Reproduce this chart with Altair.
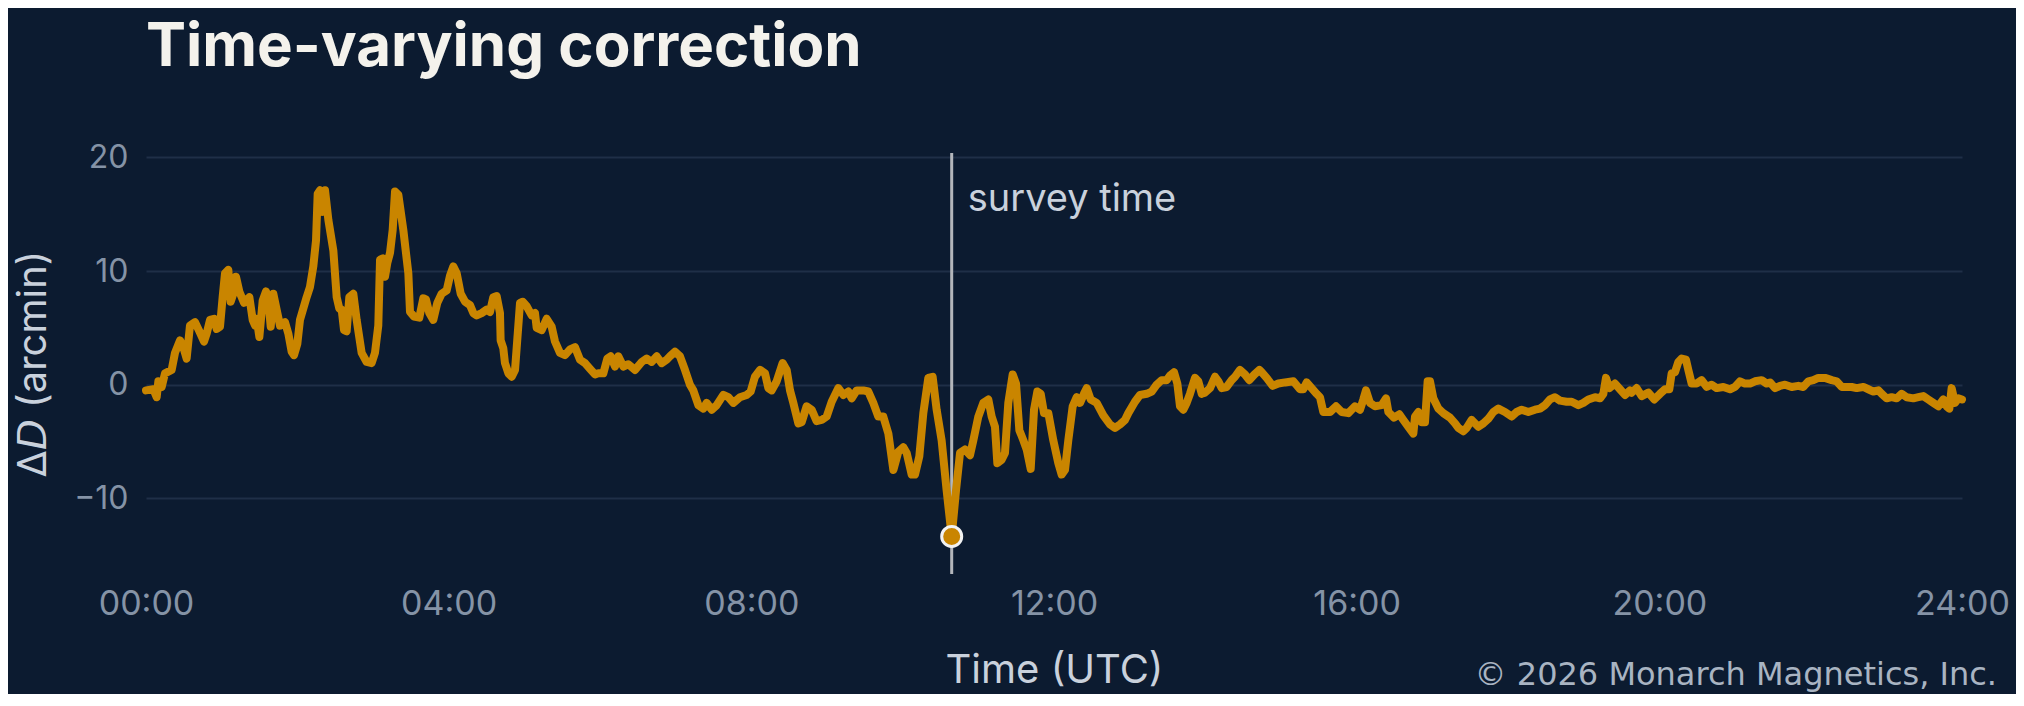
import altair as alt
import pandas as pd

# magnetic declination correction (hours UTC, arcmin)
hours = [
    0.000, 0.097, 0.141, 0.163, 0.207, 0.251, 0.339, 0.383, 0.449, 0.493,
    0.537, 0.581, 0.648, 0.705, 0.767, 0.802, 0.846, 0.899, 0.934, 0.978,
    1.013, 1.044, 1.088, 1.119, 1.154, 1.189, 1.233, 1.295, 1.366, 1.410,
    1.441, 1.463, 1.498, 1.542, 1.586, 1.617, 1.648, 1.683, 1.736, 1.771,
    1.837, 1.881, 1.925, 1.956, 2.000, 2.035, 2.123, 2.167, 2.211, 2.247,
    2.269, 2.300, 2.335, 2.366, 2.410, 2.476, 2.520, 2.555, 2.586, 2.617,
    2.652, 2.687, 2.740, 2.784, 2.850, 2.916, 2.982, 3.026, 3.070, 3.093,
    3.128, 3.159, 3.189, 3.225, 3.260, 3.291, 3.335, 3.401, 3.467, 3.489,
    3.542, 3.612, 3.665, 3.700, 3.744, 3.797, 3.850, 3.907, 3.974, 4.018,
    4.062, 4.106, 4.159, 4.216, 4.282, 4.326, 4.370, 4.436, 4.502, 4.546,
    4.590, 4.634, 4.678, 4.687, 4.722, 4.744, 4.789, 4.833, 4.877, 4.943,
    4.978, 5.031, 5.097, 5.141, 5.163, 5.229, 5.295, 5.361, 5.405, 5.471,
    5.537, 5.604, 5.670, 5.736, 5.802, 5.868, 5.934, 5.978, 6.044, 6.097,
    6.141, 6.198, 6.242, 6.308, 6.374, 6.463, 6.551, 6.617, 6.683, 6.749,
    6.815, 6.881, 6.925, 6.991, 7.057, 7.123, 7.189, 7.233, 7.300, 7.366,
    7.410, 7.476, 7.542, 7.630, 7.696, 7.762, 7.850, 7.938, 7.991, 8.048,
    8.115, 8.181, 8.225, 8.269, 8.335, 8.414, 8.467, 8.511, 8.555, 8.621,
    8.665, 8.731, 8.797, 8.863, 8.930, 8.996, 9.062, 9.150, 9.216, 9.282,
    9.326, 9.392, 9.480, 9.546, 9.612, 9.678, 9.744, 9.811, 9.877, 9.943,
    10.009, 10.053, 10.119, 10.163, 10.220, 10.273, 10.339, 10.396, 10.449, 10.515,
    10.581, 10.648, 10.705, 10.758, 10.824, 10.890, 10.934, 11.000, 11.066, 11.132,
    11.176, 11.220, 11.251, 11.308, 11.352, 11.396, 11.454, 11.498, 11.542, 11.595,
    11.639, 11.692, 11.736, 11.780, 11.824, 11.868, 11.925, 11.991, 12.057, 12.101,
    12.145, 12.189, 12.247, 12.300, 12.344, 12.396, 12.432, 12.485, 12.564, 12.652,
    12.740, 12.806, 12.872, 12.938, 12.982, 13.070, 13.137, 13.225, 13.291, 13.357,
    13.423, 13.489, 13.533, 13.586, 13.630, 13.665, 13.709, 13.753, 13.797, 13.863,
    13.907, 13.952, 13.996, 14.062, 14.128, 14.172, 14.216, 14.282, 14.348, 14.392,
    14.458, 14.524, 14.581, 14.648, 14.714, 14.744, 14.810, 14.890, 14.965, 15.053,
    15.163, 15.251, 15.295, 15.339, 15.405, 15.471, 15.515, 15.559, 15.648, 15.727,
    15.802, 15.890, 15.978, 16.044, 16.088, 16.123, 16.176, 16.242, 16.330, 16.388,
    16.419, 16.493, 16.564, 16.617, 16.683, 16.749, 16.771, 16.815, 16.859, 16.903,
    16.938, 16.969, 17.013, 17.079, 17.145, 17.233, 17.300, 17.344, 17.410, 17.454,
    17.520, 17.608, 17.674, 17.740, 17.806, 17.872, 17.960, 18.048, 18.115, 18.181,
    18.269, 18.357, 18.423, 18.489, 18.555, 18.621, 18.687, 18.775, 18.841, 18.930,
    18.996, 19.062, 19.150, 19.216, 19.260, 19.295, 19.339, 19.414, 19.480, 19.546,
    19.612, 19.634, 19.700, 19.767, 19.855, 19.933, 20.009, 20.075, 20.132, 20.163,
    20.207, 20.251, 20.295, 20.352, 20.383, 20.427, 20.493, 20.559, 20.626, 20.692,
    20.758, 20.846, 20.934, 21.000, 21.066, 21.132, 21.198, 21.264, 21.352, 21.419,
    21.463, 21.529, 21.595, 21.661, 21.749, 21.837, 21.903, 21.969, 22.035, 22.101,
    22.189, 22.278, 22.344, 22.410, 22.476, 22.542, 22.608, 22.696, 22.762, 22.828,
    22.894, 22.938, 23.004, 23.070, 23.137, 23.203, 23.269, 23.357, 23.423, 23.489,
    23.555, 23.621, 23.687, 23.753, 23.797, 23.833, 23.863, 23.907, 23.952, 24.000,
]
delta_d = [
    -0.5, -0.4, -1.1, 0.3, -0.2, 1.0, 1.3, 2.8, 3.9, 3.3,
    2.3, 5.2, 5.5, 4.7, 3.8, 4.5, 5.7, 5.8, 4.9, 5.1,
    7.7, 9.8, 10.1, 7.3, 8.0, 9.5, 8.2, 7.2, 7.7, 5.7,
    5.2, 5.8, 4.2, 7.4, 8.2, 7.4, 5.1, 8.0, 6.3, 5.2,
    5.5, 4.5, 2.9, 2.6, 3.6, 5.7, 7.7, 8.6, 10.4, 12.7,
    16.8, 17.1, 15.2, 17.1, 14.5, 11.8, 7.7, 6.7, 6.6, 4.8,
    4.7, 7.7, 8.0, 5.7, 2.8, 2.0, 1.9, 2.8, 5.2, 11.0,
    11.1, 9.5, 10.7, 11.6, 13.6, 17.0, 16.7, 13.6, 9.8, 6.4,
    6.0, 5.9, 7.6, 7.5, 6.3, 5.7, 7.2, 8.0, 8.3, 9.6,
    10.4, 9.8, 8.0, 7.3, 7.0, 6.3, 6.1, 6.3, 6.6, 6.4,
    7.7, 7.8, 6.3, 3.9, 3.2, 1.9, 1.0, 0.7, 1.3, 7.2,
    7.3, 6.9, 6.1, 6.3, 5.0, 4.8, 5.8, 5.1, 3.8, 2.8,
    2.6, 3.1, 3.3, 2.2, 1.9, 1.4, 0.9, 1.0, 1.0, 2.3,
    2.5, 1.6, 2.5, 1.6, 1.8, 1.3, 2.0, 2.3, 2.0, 2.5,
    1.9, 2.2, 2.5, 2.9, 2.5, 1.3, 0.0, -0.5, -1.8, -2.1,
    -1.6, -2.2, -1.8, -0.9, -1.1, -1.6, -1.1, -0.9, -0.6, 0.7,
    1.3, 1.0, -0.3, -0.5, 0.3, 1.9, 1.3, -0.5, -1.6, -3.4,
    -3.3, -1.9, -2.2, -3.2, -3.1, -2.8, -1.5, -0.3, -0.9, -0.6,
    -1.2, -0.5, -0.5, -0.6, -1.6, -2.8, -2.8, -4.3, -7.5, -5.9,
    -5.5, -6.0, -7.9, -7.9, -6.3, -2.5, 0.6, 0.7, -2.2, -4.9,
    -9.3, -13.35, -9.3, -6.0, -5.7, -6.2, -4.9, -2.8, -1.6, -1.3,
    -2.8, -3.7, -6.9, -6.6, -6.0, -1.6, 0.9, 0.1, -4.0, -4.9,
    -5.7, -7.4, -2.2, -0.6, -0.8, -2.5, -2.5, -4.9, -6.9, -7.9,
    -7.5, -4.9, -1.9, -1.1, -1.6, -0.8, -0.3, -1.3, -1.6, -2.7,
    -3.5, -3.8, -3.5, -3.1, -2.5, -1.5, -0.9, -0.8, -0.6, 0.0,
    0.4, 0.4, 0.8, 1.1, 0.1, -1.9, -2.2, -1.6, -0.8, 0.6,
    0.3, -0.8, -0.7, -0.3, 0.7, 0.3, -0.3, -0.2, 0.4, 0.7,
    1.3, 0.9, 0.4, 0.9, 1.3, 1.1, 0.6, -0.1, 0.1, 0.2,
    0.3, -0.4, -0.4, 0.2, -0.3, -0.8, -1.1, -2.4, -2.4, -1.9,
    -2.4, -2.5, -1.9, -2.2, -1.3, -0.5, -1.6, -1.9, -1.8, -1.2,
    -2.4, -2.9, -2.6, -3.1, -3.7, -4.3, -2.8, -2.4, -3.3, -3.3,
    0.3, 0.3, -1.2, -2.1, -2.5, -2.9, -3.4, -3.8, -4.1, -3.8,
    -3.1, -3.7, -3.4, -3.0, -2.4, -2.1, -2.4, -2.8, -2.4, -2.2,
    -2.4, -2.2, -2.1, -1.8, -1.3, -1.1, -1.4, -1.5, -1.5, -1.8,
    -1.6, -1.3, -1.1, -1.2, -0.8, 0.6, -0.3, 0.1, -0.4, -0.9,
    -0.5, -0.7, -0.3, -1.0, -0.7, -1.3, -0.8, -0.4, -0.4, 1.0,
    1.1, 2.0, 2.3, 2.2, 1.3, 0.1, 0.1, 0.4, -0.2, 0.0,
    -0.3, -0.2, -0.4, -0.2, 0.3, 0.1, 0.1, 0.3, 0.4, 0.1,
    0.2, -0.3, -0.1, 0.0, -0.2, -0.1, -0.2, 0.3, 0.4, 0.6,
    0.6, 0.4, 0.3, -0.2, -0.2, -0.2, -0.3, -0.2, -0.4, -0.6,
    -0.5, -0.8, -1.2, -1.1, -1.2, -0.8, -1.1, -1.2, -1.1, -1.0,
    -1.3, -1.6, -1.9, -1.3, -1.9, -2.1, -0.3, -1.6, -1.2, -1.3,
]

survey_hour = 10.648
survey_delta = -13.35
survey_label = "survey time"
survey_label_y = 15.3

x_ticks = [0, 4, 8, 12, 16, 20, 24]
y_ticks = [-10, 0, 10, 20]

BG = "#0c1b30"
GRID = "#1f2f47"
AMBER = "#c98500"
RULE = "#b3b6bb"
TICK_LABEL = "#8593a6"
AXIS_TITLE = "#c9d1dc"
TITLE = "#f4f2ec"
FONT = "Inter"

W, H = 1816, 421

series = pd.DataFrame({"hour": hours, "delta": delta_d})
survey = pd.DataFrame(
    {
        "hour": [survey_hour],
        "delta": [survey_delta],
        "label": [survey_label],
        "label_y": [survey_label_y],
    }
)

x_scale = alt.Scale(domain=[0, 24], nice=False, zero=False)
y_scale = alt.Scale(domain=[-16.65, 20.38], nice=False, zero=False)

x_axis = alt.Axis(
    values=x_ticks,
    labelExpr="(datum.value < 10 ? '0' : '') + datum.value + ':00'",
    title="Time (UTC)",
    grid=False,
    domain=False,
    ticks=False,
    tickSize=0,
    labelPadding=13,
    labelFlush=False,
    labelFont=FONT,
    labelFontSize=34,
    labelColor=TICK_LABEL,
    titleFont=FONT,
    titleFontSize=40,
    titleFontWeight="normal",
    titleColor=AXIS_TITLE,
    titleX=W / 2,
    titleY=108,
    titleAlign="center",
    titleBaseline="alphabetic",
)
y_axis = alt.Axis(
    values=y_ticks,
    title="Δ𝘋 (arcmin)",
    grid=True,
    gridColor=GRID,
    gridWidth=2,
    domain=False,
    ticks=False,
    tickSize=0,
    labelPadding=18,
    labelFont=FONT,
    labelFontSize=32,
    labelColor=TICK_LABEL,
    titleFont=FONT,
    titleFontSize=40,
    titleFontWeight="normal",
    titleColor=AXIS_TITLE,
    titleX=-113,
    titleY=H / 2,
    titleAlign="center",
    titleBaseline="middle",
)

rule = (
    alt.Chart(survey)
    .mark_rule(color=RULE, strokeWidth=3)
    .encode(x=alt.X("hour:Q", scale=x_scale, axis=x_axis))
)

line = (
    alt.Chart(series)
    .mark_line(color=AMBER, strokeWidth=8, strokeJoin="round", strokeCap="round")
    .encode(
        x=alt.X("hour:Q", scale=x_scale, axis=x_axis),
        y=alt.Y("delta:Q", scale=y_scale, axis=y_axis),
    )
)

point = (
    alt.Chart(survey)
    .mark_point(filled=True, size=400, fill=AMBER, stroke="#f2f2f2", strokeWidth=3, opacity=1)
    .encode(
        x=alt.X("hour:Q", scale=x_scale),
        y=alt.Y("delta:Q", scale=y_scale),
    )
)

label = (
    alt.Chart(survey)
    .mark_text(
        align="left",
        baseline="alphabetic",
        dx=16,
        font=FONT,
        fontSize=38,
        color=AXIS_TITLE,
    )
    .encode(
        x=alt.X("hour:Q", scale=x_scale),
        y=alt.Y("label_y:Q", scale=y_scale),
        text="label:N",
    )
)

credit = (
    alt.Chart(pd.DataFrame({"text": ["© 2026 Monarch Magnetics, Inc."]}))
    .mark_text(
        align="right",
        baseline="alphabetic",
        font="DejaVu Sans",
        fontSize=32,
        color="#a9b4c2",
    )
    .encode(x=alt.value(W + 35), y=alt.value(H + 111), text="text:N")
)

chart = (
    alt.layer(rule, line, point, label, credit)
    .properties(
        width=W,
        height=H,
        title=alt.TitleParams(
            "Time-varying correction",
            anchor="start",
            frame="group",
            font=FONT,
            fontSize=60,
            fontWeight="bold",
            color=TITLE,
            baseline="alphabetic",
            offset=15,
        ),
        padding={"left": 138, "top": 145, "right": 54, "bottom": 120},
        autosize=alt.AutoSizeParams(type="none"),
    )
    .configure(background=BG)
    .configure_view(strokeWidth=0)
)

chart.save("out.html", embed_options={"renderer": "svg", "actions": False})
